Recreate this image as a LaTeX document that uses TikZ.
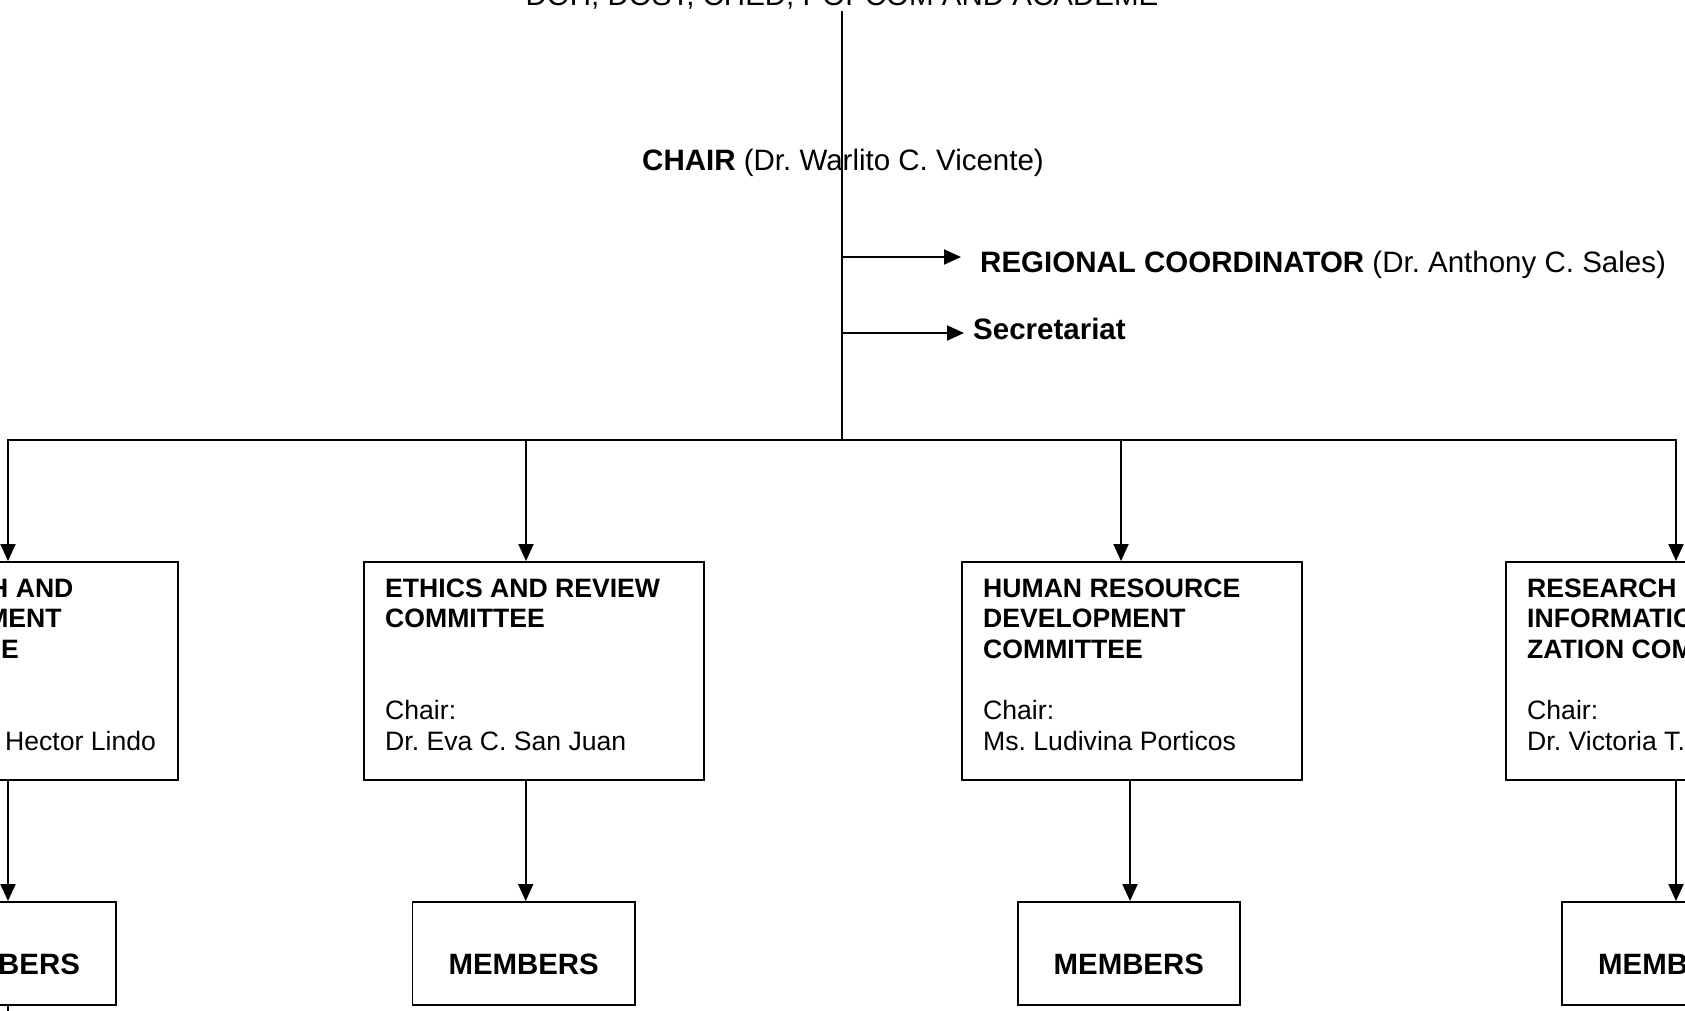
\documentclass[tikz,border=0pt]{standalone}
\usepackage{fontspec}
\setmainfont{Liberation Sans}
\usetikzlibrary{arrows.meta}
\frenchspacing
\begin{document}
\begin{tikzpicture}[x=1pt,y=-1pt,
  ln/.style={line width=1.9pt},
  arr/.style={ln,-{Triangle[length=17pt,width=15pt]}},
  boxnode/.style={draw,line width=1.9pt,minimum width=340pt,minimum height=218pt,inner sep=0pt},
  memnode/.style={draw,line width=1.9pt,minimum width=222.5pt,minimum height=103pt,inner sep=0pt},
  hd/.style={font=\fontsize{29.5pt}{34pt}\selectfont,inner sep=0pt,anchor=base west},
  bt/.style={font=\fontsize{26.6pt}{31pt}\selectfont,inner sep=0pt,anchor=base west},
  mt/.style={font=\fontsize{29.4pt}{34pt}\selectfont\bfseries,inner sep=0pt,anchor=base}]
\useasboundingbox (0,0) rectangle (1685,1010);
\clip (0,0) rectangle (1685,1010);

% header texts
\node[hd,anchor=base] (top) at (842,5) {DOH, DOST, CHED, POPCOM AND ACADEME};
\node[hd] (chair) at (642,170) {\textbf{CHAIR} (Dr. Warlito C. Vicente)};
\node[hd] (reg) at (980,272) {\textbf{REGIONAL COORDINATOR} (Dr. Anthony C. Sales)};
\node[hd] (sec) at (973,339) {\textbf{Secretariat}};

% trunk coordinates
\coordinate (t0) at (842,11);
\coordinate (t1) at (842,257);
\coordinate (t2) at (842,333);
\coordinate (t3) at (842,440);
\coordinate (r1) at (961,257);
\coordinate (s1) at (964,333);

% committee boxes
\node[boxnode] (b1) at (8,671) {};
\node[boxnode] (b2) at (534,671) {};
\node[boxnode] (b3) at (1132,671) {};
\node[boxnode] (b4) at (1676,671) {};

% members boxes
\node[memnode] (m1) at (4.75,953.5) {};
\node[memnode] (m2) at (523.7,953.5) {};
\node[memnode] (m3) at (1128.8,953.5) {};
\node[memnode] (m4) at (1673.3,953.5) {};

\node[mt] (ml1) at (4.75,974) {MEMBERS};
\node[mt] (ml2) at (523.7,974) {MEMBERS};
\node[mt] (ml3) at (1128.8,974) {MEMBERS};
\node[mt] (ml4) at (1673.3,974) {MEMBERS};

% box 1 text
\node[bt] (b1a) at (-141,597) {\textbf{RESEARCH AND}};
\node[bt] (b1b) at (-141,627.5) {\textbf{DEVELOPMENT}};
\node[bt] (b1c) at (-141,658) {\textbf{COMMITTEE}};
\node[bt] (b1d) at (-141,719) {Chair:};
\node[bt] (b1e) at (5,750) {Hector Lindo};
% box 2 text
\node[bt] (b2a) at (385,597) {\textbf{ETHICS AND REVIEW}};
\node[bt] (b2b) at (385,627.5) {\textbf{COMMITTEE}};
\node[bt] (b2d) at (385,719) {Chair:};
\node[bt] (b2e) at (385,750) {Dr. Eva C. San Juan};
% box 3 text
\node[bt] (b3a) at (983,597) {\textbf{HUMAN RESOURCE}};
\node[bt] (b3b) at (983,627.5) {\textbf{DEVELOPMENT}};
\node[bt] (b3c) at (983,658) {\textbf{COMMITTEE}};
\node[bt] (b3d) at (983,719) {Chair:};
\node[bt] (b3e) at (983,750) {Ms. Ludivina Porticos};
% box 4 text
\node[bt] (b4a) at (1527,597) {\textbf{RESEARCH}};
\node[bt] (b4b) at (1527,627.5) {\textbf{INFORMATION}};
\node[bt] (b4c) at (1527,658) {\textbf{ZATION COMMITTEE}};
\node[bt] (b4d) at (1527,719) {Chair:};
\node[bt] (b4e) at (1527,750) {Dr. Victoria T.};

% bus junctions
\coordinate (j1) at (8,440);
\coordinate (j2) at (526,440);
\coordinate (j3) at (1121,440);
\coordinate (j4) at (1676,440);
\coordinate (k1) at (8,0);
\coordinate (k2) at (525.7,0);
\coordinate (k3) at (1130,0);
\coordinate (k4) at (1676,0);

% connectors
\draw[ln] (t0) -- (t3);
\draw[arr] (t1) -- (r1);
\draw[arr] (t2) -- (s1);
\draw[arr] (t3) -- (j1) -- (j1 |- b1.north);
\draw[arr] (t3) -- (j4) -- (j4 |- b4.north);
\draw[arr] (j2) -- (j2 |- b2.north);
\draw[arr] (j3) -- (j3 |- b3.north);

\draw[arr] (k1 |- b1.south) -- (k1 |- m1.north);
\draw[arr] (k2 |- b2.south) -- (k2 |- m2.north);
\draw[arr] (k3 |- b3.south) -- (k3 |- m3.north);
\draw[arr] (k4 |- b4.south) -- (k4 |- m4.north);
\draw[ln] (k1 |- m1.south) -- ++(0,20);
\end{tikzpicture}
\end{document}
